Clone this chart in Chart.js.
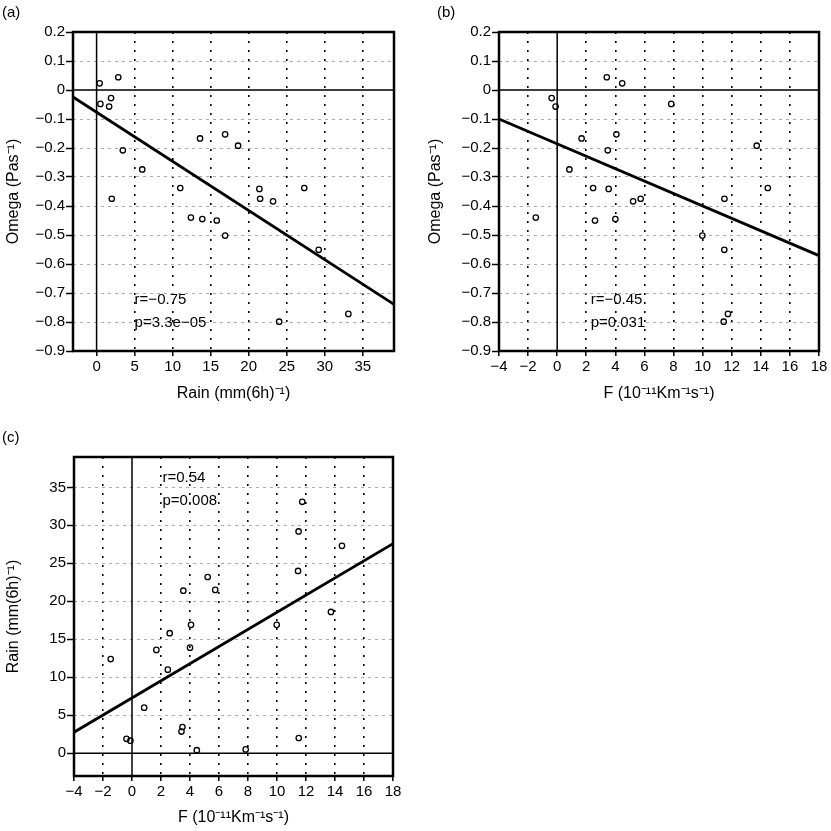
<!DOCTYPE html>
<html>
<head>
<meta charset="utf-8">
<script src="https://cdn.jsdelivr.net/npm/chart.js@4.4.0/dist/chart.umd.min.js"></script>
<style>
body { margin: 0; background: #fff; }
#wrap { position: relative; width: 831px; height: 831px; }
canvas { position: absolute; left: 0; top: 0; width: 831px; height: 831px; }
.tag { position: absolute; font: 15px 'Liberation Sans', Arial, sans-serif; color: #000; }
</style>
</head>
<body>
<div id="wrap">
  <canvas id="chartA" width="831" height="831"></canvas>
  <canvas id="chartB" width="831" height="831"></canvas>
  <canvas id="chartC" width="831" height="831"></canvas>
  <div class="tag" style="left:2px;top:3px">(a)</div>
  <div class="tag" style="left:437px;top:3px">(b)</div>
  <div class="tag" style="left:2px;top:428px">(c)</div>
</div>
<script>
// Values (same 23 cases in each)
const rain    = [0.4, 2.85, 0.5, 1.9, 1.65, 3.45, 2.0, 6.0, 11.0, 13.6, 16.9, 18.6, 12.4, 13.9, 15.8, 16.9, 21.4, 21.5, 23.2, 27.3, 29.2, 24.0, 33.1];
const omega   = [0.023, 0.044, -0.048, -0.028, -0.057, -0.208, -0.375, -0.274, -0.338, -0.167, -0.153, -0.192, -0.44, -0.445, -0.45, -0.502, -0.341, -0.375, -0.384, -0.338, -0.551, -0.799, -0.772];
const forcing = [4.47, 3.41, 7.84, -0.38, -0.11, 3.48, 11.5, 0.84, 2.47, 1.68, 4.07, 13.72, -1.47, 4.0, 2.6, 9.98, 3.54, 5.74, 5.22, 14.48, 11.49, 11.45, 11.74];

// regression lines (end points read at the axis limits)
const fitAx = [-3.1, 39.1], fitAy = [-0.024, -0.739];
const fitBx = [-4, 18],     fitBy = [-0.100, -0.571];
const fitCx = [-4, 18],     fitCy = [2.77, 27.6];

// ticks
const rainTicks   = [0, 5, 10, 15, 20, 25, 30, 35];
const rainLabels  = ['0', '5', '10', '15', '20', '25', '30', '35'];
const omegaTicks  = [-0.9, -0.8, -0.7, -0.6, -0.5, -0.4, -0.3, -0.2, -0.1, 0, 0.1, 0.2];
const omegaLabels = ['\u22120.9', '\u22120.8', '\u22120.7', '\u22120.6', '\u22120.5', '\u22120.4', '\u22120.3', '\u22120.2', '\u22120.1', '0', '0.1', '0.2'];
const fTicks      = [-4, -2, 0, 2, 4, 6, 8, 10, 12, 14, 16, 18];
const fLabels     = ['\u22124', '\u22122', '0', '2', '4', '6', '8', '10', '12', '14', '16', '18'];

// statistics text
const statsA = ['r=\u22120.75', 'p=3.3e\u221205'];
const statsB = ['r=\u22120.45', 'p=0.031'];
const statsC = ['r=0.54', 'p=0.008'];

Chart.defaults.font.family = "'Liberation Sans', Arial, Helvetica, sans-serif";
Chart.defaults.color = '#000';

// frame, zero lines and the r/p text
const framePlugin = {
  id: 'frame',
  beforeDatasetsDraw(chart) {
    const { ctx, chartArea: a, scales: { x, y } } = chart;
    const x0 = x.getPixelForValue(0), y0 = y.getPixelForValue(0);
    ctx.save();
    ctx.strokeStyle = '#000';
    ctx.lineWidth = 1.5;
    ctx.beginPath();
    ctx.moveTo(x0, a.top); ctx.lineTo(x0, a.bottom);
    ctx.moveTo(a.left, y0); ctx.lineTo(a.right, y0);
    ctx.stroke();
    ctx.restore();
  },
  afterDatasetsDraw(chart, args, opts) {
    const { ctx, chartArea: a, scales: { x, y } } = chart;
    ctx.save();
    ctx.fillStyle = '#000';
    ctx.font = "15px 'Liberation Sans', Arial, sans-serif";
    ctx.textBaseline = 'middle';
    ctx.textAlign = 'left';
    opts.lines.forEach((t, i) => {
      ctx.fillText(t, x.getPixelForValue(opts.at[0]), y.getPixelForValue(opts.at[1][i]));
    });
    ctx.strokeStyle = '#000';
    ctx.lineWidth = 2.5;
    ctx.strokeRect(a.left, a.top, a.right - a.left, a.bottom - a.top);
    ctx.restore();
  }
};

function makePanel(id, p) {
  const zeroHidden = (col) => (c) => (c.tick && Math.abs(c.tick.value) < 1e-9 ? 'rgba(0,0,0,0)' : col);
  return new Chart(document.getElementById(id), {
    type: 'scatter',
    data: {
      datasets: [{
        data: p.fitX.map((v, i) => ({ x: v, y: p.fitY[i] })),
        showLine: true,
        borderColor: '#000',
        borderWidth: 2.8,
        pointRadius: 0
      }, {
        data: p.xs.map((v, i) => ({ x: v, y: p.ys[i] })),
        pointRadius: 2.7,
        pointBorderWidth: 1.3,
        borderColor: '#000',
        backgroundColor: 'rgba(0,0,0,0)'
      }]
    },
    options: {
      responsive: false,
      animation: false,
      layout: { padding: p.pad },
      plugins: {
        legend: { display: false },
        tooltip: { enabled: false },
        frame: { lines: p.stats, at: p.statsAt }
      },
      scales: {
        x: {
          type: 'linear', min: p.xMin, max: p.xMax,
          afterBuildTicks: s => { s.ticks = p.xTicks.map(v => ({ value: v })); },
          afterFit: s => { s.height = p.xH; },
          ticks: { callback: (v, i) => p.xLabels[i], font: { size: 15 }, padding: 2, maxRotation: 0, autoSkip: false },
          grid: { color: zeroHidden('#000'), lineWidth: 1.6, tickColor: '#000', tickLength: 5, tickWidth: 1.5 },
          border: { display: false, dash: [2, 7] },
          title: { display: true, text: p.xTitle, font: { size: 16 }, padding: { top: 0, bottom: p.xTitlePad } }
        },
        y: {
          type: 'linear', min: p.yMin, max: p.yMax,
          afterBuildTicks: s => { s.ticks = p.yTicks.map(v => ({ value: v })); },
          afterFit: s => { s.width = p.yW; },
          ticks: { callback: (v, i) => p.yLabels[i], font: { size: 15 }, padding: 1, autoSkip: false },
          grid: { color: zeroHidden('#aaa'), lineWidth: 1, tickColor: '#000', tickLength: 7, tickWidth: 1.5 },
          border: { display: false, dash: [3, 4] },
          title: { display: true, text: p.yTitle, font: { size: 16 }, padding: { top: p.yTitlePad, bottom: 0 } }
        }
      }
    },
    plugins: [framePlugin]
  });
}

makePanel('chartA', {
  xs: rain, ys: omega, fitX: fitAx, fitY: fitAy,
  xMin: -3.1, xMax: 39.1, xTicks: rainTicks, xLabels: rainLabels,
  yMin: -0.9, yMax: 0.2, yTicks: omegaTicks, yLabels: omegaLabels,
  xTitle: 'Rain (mm(6h)\u207B\u00B9)', yTitle: 'Omega (Pas\u207B\u00B9)',
  pad: { left: 0, top: 32, right: 437, bottom: 420 }, yW: 73, xH: 60, yTitlePad: 4, xTitlePad: 8,
  stats: statsA, statsAt: [5.0, [-0.725, -0.802]]
});

makePanel('chartB', {
  xs: forcing, ys: omega, fitX: fitBx, fitY: fitBy,
  xMin: -4, xMax: 18, xTicks: fTicks, xLabels: fLabels,
  yMin: -0.9, yMax: 0.2, yTicks: omegaTicks, yLabels: omegaLabels,
  xTitle: 'F (10\u207B\u00B9\u00B9Km\u207B\u00B9s\u207B\u00B9)', yTitle: 'Omega (Pas\u207B\u00B9)',
  pad: { left: 419, top: 32, right: 12, bottom: 420 }, yW: 80, xH: 60, yTitlePad: 7, xTitlePad: 8,
  stats: statsB, statsAt: [2.3, [-0.725, -0.802]]
});

makePanel('chartC', {
  xs: forcing, ys: rain, fitX: fitCx, fitY: fitCy,
  xMin: -4, xMax: 18, xTicks: fTicks, xLabels: fLabels,
  yMin: -3, yMax: 39, yTicks: rainTicks, yLabels: rainLabels,
  xTitle: 'F (10\u207B\u00B9\u00B9Km\u207B\u00B9s\u207B\u00B9)', yTitle: 'Rain (mm(6h)\u207B\u00B9)',
  pad: { left: 0, top: 457, right: 438, bottom: 3 }, yW: 74, xH: 52, yTitlePad: 4, xTitlePad: 1,
  stats: statsC, statsAt: [2.1, [36.3, 33.2]]
});
</script>
</body>
</html>
